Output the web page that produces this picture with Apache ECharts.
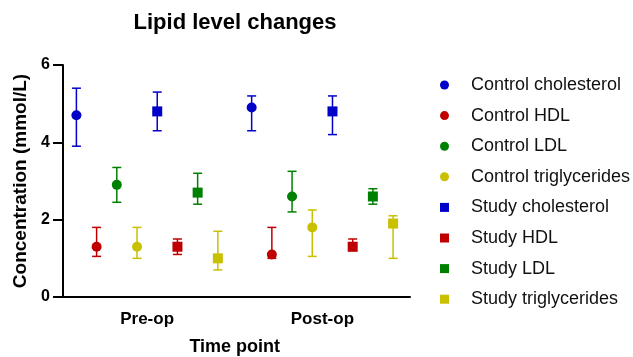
<!DOCTYPE html>
<html>
<head>
<meta charset="utf-8">
<script src="https://cdn.jsdelivr.net/npm/echarts@6/dist/echarts.min.js"></script>
<style>
  html, body { margin: 0; padding: 0; background: #fff; }
  #chart { width: 633px; height: 357px; }
</style>
</head>
<body>
<div id="chart"></div>
<script>
// 数据
const categories = ['Pre-op', 'Post-op']
const seriesNames = [
  'Control cholesterol', 'Control HDL', 'Control LDL', 'Control triglycerides',
  'Study cholesterol', 'Study HDL', 'Study LDL', 'Study triglycerides'
]
// mean per time point
const meanValues = [
  [4.7, 4.9], [1.3, 1.1], [2.9, 2.6], [1.3, 1.8],
  [4.8, 4.8], [1.3, 1.3], [2.7, 2.6], [1.0, 1.9]
]
// top of error bar
const upperValues = [
  [5.4, 5.2], [1.8, 1.8], [3.35, 3.25], [1.8, 2.25],
  [5.3, 5.2], [1.5, 1.5], [3.2, 2.8], [1.7, 2.1]
]
// bottom of error bar
const lowerValues = [
  [3.9, 4.3], [1.05, 1.0], [2.45, 2.2], [1.0, 1.05],
  [4.3, 4.2], [1.1, 1.2], [2.4, 2.4], [0.7, 1.0]
]

const colors = ['#0000c8', '#c00000', '#008000', '#c8c000', '#0000c8', '#c00000', '#008000', '#c8c000']
const font = 'Arial, "Liberation Sans", sans-serif'
const step = 0.1153 // 点之间的间距 (占类目宽度)

const makeRender = (idx, square) => (params, api) => {
  const band = api.size([1, 0])[0]
  const dx = band * step * (idx - 3.5)
  const c = api.coord([api.value(0), api.value(1)])
  const hi = api.coord([api.value(0), api.value(2)])
  const lo = api.coord([api.value(0), api.value(3)])
  const x = c[0] + dx
  const color = api.visual('color')
  const cap = 4.5
  const line = { stroke: color, lineWidth: 1.5 }
  const children = [
    { type: 'line', shape: { x1: x, y1: hi[1], x2: x, y2: lo[1] }, style: line },
    { type: 'line', shape: { x1: x - cap, y1: hi[1], x2: x + cap, y2: hi[1] }, style: line },
    { type: 'line', shape: { x1: x - cap, y1: lo[1], x2: x + cap, y2: lo[1] }, style: line }
  ]
  if (square) {
    children.push({ type: 'rect', shape: { x: x - 5, y: c[1] - 5, width: 10, height: 10 }, style: { fill: color } })
  } else {
    children.push({ type: 'circle', shape: { cx: x, cy: c[1], r: 5 }, style: { fill: color } })
  }
  return { type: 'group', children }
}

const series = seriesNames.map((name, i) => ({
  name,
  type: 'custom',
  itemStyle: { color: colors[i] },
  encode: { x: 0, y: [1, 2, 3] },
  renderItem: makeRender(i, i >= 4),
  data: categories.map((c, j) => [j, meanValues[i][j], upperValues[i][j], lowerValues[i][j]])
}))

const options = {
  animation: false,
  title: {
    text: 'Lipid level changes',
    left: 230,
    textAlign: 'center',
    top: 7,
    textStyle: { fontFamily: font, fontSize: 22, fontWeight: 'bold', color: '#000' }
  },
  legend: {
    orient: 'vertical',
    left: 435,
    top: 71,
    itemWidth: 9,
    itemHeight: 9,
    itemGap: 12.6,
    textStyle: { fontFamily: font, fontSize: 18, color: '#111', padding: [0, 0, 0, 17] },
    data: seriesNames.map((n, i) => ({ name: n, icon: i >= 4 ? 'rect' : 'circle' }))
  },
  grid: {
    left: 59.5,
    top: 65,
    right: 223,
    bottom: 60,
    outerBoundsMode: 'none'
  },
  xAxis: {
    type: 'category',
    data: categories,
    boundaryGap: true,
    name: 'Time point',
    nameLocation: 'middle',
    nameGap: 41,
    nameTextStyle: { fontFamily: font, fontSize: 18, fontWeight: 'bold', color: '#000' },
    axisLine: { lineStyle: { color: '#000', width: 2 } },
    axisTick: { alignWithLabel: true, length: 9, lineStyle: { color: '#000', width: 2 } },
    axisLabel: { margin: 14, fontFamily: font, fontSize: 17, fontWeight: 'bold', color: '#000' },
    splitLine: { show: false }
  },
  yAxis: {
    type: 'value',
    min: 0,
    max: 6,
    interval: 2,
    offset: -3.5,
    name: 'Concentration (mmol/L)',
    nameLocation: 'middle',
    nameGap: 30,
    nameTextStyle: { fontFamily: font, fontSize: 19, fontWeight: 'bold', color: '#000' },
    axisLine: { show: true, lineStyle: { color: '#000', width: 2 } },
    axisTick: { show: true, length: 10, lineStyle: { color: '#000', width: 2 } },
    axisLabel: { margin: 13, fontFamily: font, fontSize: 16, fontWeight: 'bold', color: '#000' },
    splitLine: { show: false }
  },
  series
}

const chartDom = echarts.init(document.getElementById('chart'))
chartDom.setOption(options)
</script>
</body>
</html>
